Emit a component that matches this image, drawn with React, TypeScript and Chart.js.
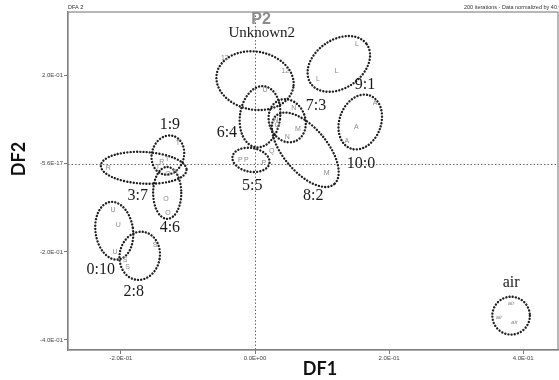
import React, { useEffect, useRef } from "react";
import { Chart, registerables } from "chart.js";

Chart.register(...registerables);

// Axis ticks
const xTicks = [-0.2, 0, 0.2, 0.4];
const xTickLabels = ["-2.0E-01", "0.0E+00", "2.0E-01", "4.0E-01"];
const yTicks = [-0.4, -0.2, 0, 0.2];
const yTickLabels = ["-4.0E-01", "-2.0E-01", "-5.6E-17", "2.0E-01"];

// Individual samples (DF1, DF2) with their small marker letters
const pointLabels = [
  "12", "12",
  "U", "Q", "Q",
  "N", "N", "N",
  "M", "M",
  "P", "P", "P",
  "L", "L", "L",
  "A", "A", "A",
  "T", "T", "T",
  "R", "R", "R",
  "O", "O", "O",
  "U", "U", "U",
  "S", "S", "S",
  "air", "air", "air",
];
const pointX = [
  -0.045, 0.045,
  0.015, 0.033, 0.025,
  0.058, 0.031, 0.048,
  0.064, 0.107,
  -0.022, -0.013, 0.013,
  0.152, 0.122, 0.094,
  0.179, 0.151, 0.137,
  -0.115, -0.131, -0.145,
  -0.219, -0.139, -0.119,
  -0.13, -0.133, -0.13,
  -0.212, -0.204, -0.209,
  -0.149, -0.194, -0.19,
  0.382, 0.364, 0.387,
];
const pointY = [
  0.241, 0.211,
  0.168, 0.089, 0.03,
  0.127, 0.1, 0.061,
  0.08, -0.02,
  0.009, 0.009, 0.002,
  0.273, 0.211, 0.193,
  0.139, 0.084, 0.052,
  0.048, 0.011, -0.007,
  -0.009, 0.005, -0.018,
  -0.023, -0.08, -0.111,
  -0.105, -0.139, -0.2,
  -0.184, -0.218, -0.234,
  -0.316, -0.348, -0.359,
];

// Confidence ellipses (center, semi-axes in data units, screen rotation in degrees)
const ellipseCX = [0.0, 0.0075, 0.048, 0.075, -0.006, 0.125, 0.157, -0.13, -0.166, -0.131, -0.21, -0.172, 0.382];
const ellipseCY = [0.189, 0.107, 0.098, 0.032, 0.009, 0.227, 0.095, 0.02, -0.009, -0.066, -0.152, -0.209, -0.345];
const ellipseRX = [0.058, 0.03, 0.027, 0.067, 0.028, 0.051, 0.031, 0.024, 0.064, 0.021, 0.028, 0.03, 0.028];
const ellipseRY = [0.066, 0.07, 0.05, 0.05, 0.027, 0.055, 0.064, 0.045, 0.036, 0.059, 0.066, 0.055, 0.043];
const ellipseRot = [10, 8, -20, 50, 10, -35, 20, 15, 3, 0, -8, 10, 0];

// Group labels
const groupLabels = ["Unknown2", "1:9", "6:4", "3:7", "5:5", "4:6", "0:10", "2:8", "7:3", "9:1", "10:0", "8:2", "air"];
const groupLabelX = [0.01, -0.127, -0.042, -0.175, -0.004, -0.127, -0.23, -0.181, 0.091, 0.164, 0.158, 0.087, 0.382];
const groupLabelY = [0.298, 0.089, 0.07, -0.073, -0.05, -0.145, -0.241, -0.291, 0.132, 0.18, 0.0, -0.073, -0.27];

const plotTitle = "P2";
const plotTitleX = 0.009;
const plotTitleY = 0.327;

const X_MIN = -0.279;
const X_MAX = 0.452;
const Y_MIN = -0.423;
const Y_MAX = 0.345;

const overlay = {
  id: "overlay",
  beforeDatasetsDraw(chart: any) {
    const { ctx, chartArea, scales } = chart;
    const x0 = scales.x.getPixelForValue(0);
    const y0 = scales.y.getPixelForValue(0);
    ctx.save();
    ctx.strokeStyle = "#666";
    ctx.lineWidth = 1;
    ctx.setLineDash([1.5, 2]);
    ctx.beginPath();
    ctx.moveTo(Math.round(x0) + 0.5, chartArea.top);
    ctx.lineTo(Math.round(x0) + 0.5, chartArea.bottom);
    ctx.moveTo(chartArea.left, Math.round(y0) + 0.5);
    ctx.lineTo(chartArea.right, Math.round(y0) + 0.5);
    ctx.stroke();
    ctx.setLineDash([]);
    ctx.strokeStyle = "#888";
    ctx.lineWidth = 1.2;
    ctx.strokeRect(chartArea.left, chartArea.top, chartArea.right - chartArea.left, chartArea.bottom - chartArea.top);
    ctx.restore();
  },
  afterDatasetsDraw(chart: any) {
    const { ctx, scales } = chart;
    const sx = scales.x;
    const sy = scales.y;
    ctx.save();
    // ellipses
    ctx.strokeStyle = "#1e1e1e";
    ctx.lineWidth = 2.4;
    ctx.lineCap = "round";
    ctx.setLineDash([0.01, 3.2]);
    for (let i = 0; i < ellipseCX.length; i++) {
      const cx = sx.getPixelForValue(ellipseCX[i]);
      const cy = sy.getPixelForValue(ellipseCY[i]);
      const rx = Math.abs(sx.getPixelForValue(ellipseCX[i] + ellipseRX[i]) - cx);
      const ry = Math.abs(sy.getPixelForValue(ellipseCY[i] + ellipseRY[i]) - cy);
      ctx.beginPath();
      ctx.ellipse(cx, cy, rx, ry, (ellipseRot[i] * Math.PI) / 180, 0, Math.PI * 2);
      ctx.stroke();
    }
    ctx.setLineDash([]);
    // point letters
    const meta = chart.getDatasetMeta(0);
    ctx.fillStyle = "#8a8a8a";
    ctx.textAlign = "center";
    ctx.textBaseline = "middle";
    meta.data.forEach((el: any, i: number) => {
      const lab = pointLabels[i];
      ctx.font = lab === "air" ? "italic 6px 'Liberation Sans'" : "7px 'Liberation Sans'";
      ctx.fillText(lab, el.x, el.y);
    });
    // group labels
    ctx.fillStyle = "#1a1a1a";
    for (let i = 0; i < groupLabels.length; i++) {
      ctx.font = i === 0 ? "15px 'Liberation Serif'" : "16px 'Liberation Serif'";
      ctx.fillText(groupLabels[i], sx.getPixelForValue(groupLabelX[i]), sy.getPixelForValue(groupLabelY[i]));
    }
    ctx.fillStyle = "#8c8c8c";
    ctx.font = "bold 16px 'Liberation Sans'";
    ctx.fillText(plotTitle, sx.getPixelForValue(plotTitleX), sy.getPixelForValue(plotTitleY));
    // header texts
    const { chartArea } = chart;
    ctx.fillStyle = "#333";
    ctx.font = "5.5px 'Liberation Sans'";
    ctx.textAlign = "left";
    ctx.textBaseline = "alphabetic";
    ctx.fillText("DFA 2", chartArea.left, chartArea.top - 3);
    ctx.fillText("200 iterations - Data normalized by 40.00", 464, chartArea.top - 3);
    // axis titles
    ctx.fillStyle = "#111";
    ctx.font = "bold 18px Lato";
    ctx.textAlign = "center";
    ctx.textBaseline = "middle";
    ctx.fillText("DF1", (chartArea.left + chartArea.right) / 2 + 7, chartArea.bottom + 19);
    ctx.translate(19, (chartArea.top + chartArea.bottom) / 2 - 22);
    ctx.rotate(-Math.PI / 2);
    ctx.fillText("DF2", 0, 0);
    ctx.restore();
  },
};

export default function App() {
  const ref = useRef<HTMLCanvasElement>(null);
  useEffect(() => {
    if (!ref.current) return;
    const chart = new Chart(ref.current, {
      type: "scatter",
      data: {
        datasets: [
          {
            data: pointX.map((x, i) => ({ x, y: pointY[i] })),
            pointRadius: 0,
            pointHoverRadius: 0,
            showLine: false,
          },
        ],
      },
      options: {
        responsive: false,
        animation: false,
        layout: { padding: { top: 12, right: 1, left: 0, bottom: 0 } },
        plugins: { legend: { display: false }, tooltip: { enabled: false } },
        scales: {
          x: {
            type: "linear",
            min: X_MIN,
            max: X_MAX,
            afterBuildTicks: (s: any) => {
              s.ticks = xTicks.map((v) => ({ value: v }));
            },
            afterFit: (s: any) => {
              s.height = 30;
            },
            grid: { display: true, drawOnChartArea: false, drawTicks: true, tickLength: 4, color: "#777" },
            border: { display: true, color: "#777", width: 1.2 },
            ticks: {
              padding: 1,
              color: "#444",
              font: { size: 6, family: "'Liberation Sans'" },
              maxRotation: 0,
              autoSkip: false,
              callback: (v: any) => xTickLabels[xTicks.indexOf(v)] ?? "",
            },
          },
          y: {
            type: "linear",
            min: Y_MIN,
            max: Y_MAX,
            afterBuildTicks: (s: any) => {
              s.ticks = yTicks.map((v) => ({ value: v }));
            },
            afterFit: (s: any) => {
              s.width = 68;
            },
            grid: { display: true, drawOnChartArea: false, drawTicks: true, tickLength: 4, color: "#777" },
            border: { display: true, color: "#777", width: 1.2 },
            ticks: {
              padding: 1,
              color: "#444",
              font: { size: 6, family: "'Liberation Sans'" },
              autoSkip: false,
              callback: (v: any) => yTickLabels[yTicks.indexOf(v)] ?? "",
            },
          },
        },
      },
      plugins: [overlay],
    });
    return () => chart.destroy();
  }, []);
  return (
    <div style={{ position: "absolute", left: 0, top: 0, width: 559, height: 380, background: "#fff" }}>
      <canvas ref={ref} width={559} height={380} />
    </div>
  );
}
